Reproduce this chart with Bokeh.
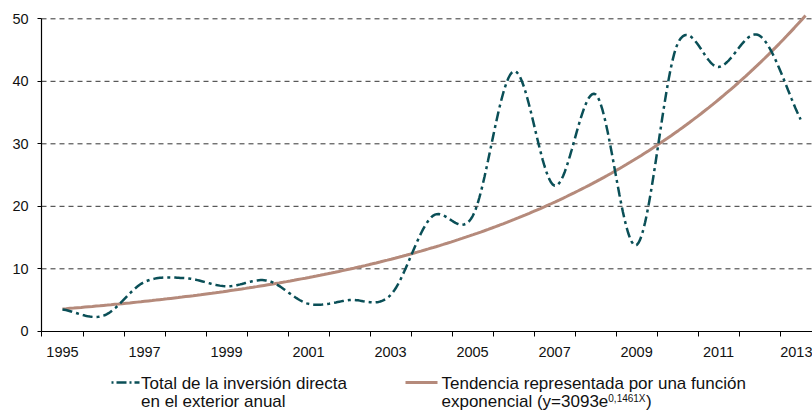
import numpy as np
from bokeh.plotting import figure
from bokeh.models import Range1d, FixedTicker, Label, Arrow, LinearAxis
from bokeh.embed import file_html
from bokeh.resources import INLINE

# ---- data ----
years = list(range(1995, 2014))
inversion = [3.5, 2.5, 7.9, 8.5, 7.2, 8.1, 4.4, 5.0, 5.8, 18.3, 18.4,
             41.6, 23.3, 37.9, 13.8, 46.0, 42.3, 47.3, 33.9]
# trend stated in the chart: y = 3093 e^(0.1461 X), X = 1..19, in millions -> billions
trend_a = 3093.0
trend_b = 0.1461
trend_scale = 1000.0
trend_extra = 0.12  # the trend line is drawn slightly beyond the last year
y_ticks = [0, 10, 20, 30, 40, 50]
x_label_years = [1995, 1997, 1999, 2001, 2003, 2005, 2007, 2009, 2011, 2013]
legend_1 = ["Total de la inversión directa", "en el exterior anual"]
legend_2 = ["Tendencia representada por una función", "exponencial (y=3093e"]
legend_2_sup = "0,1461X"
legend_2_end = ")"

TEAL = "#0a4f57"
TREND = "#b58a7b"
FONT = "Liberation Sans"


def smooth(xs, ys, n=24):
    """Catmull-Rom style smoothing used only for drawing the line."""
    xs = np.asarray(xs, float)
    ys = np.asarray(ys, float)
    m = np.zeros_like(ys)
    m[1:-1] = (ys[2:] - ys[:-2]) / 2.0
    m[0] = ys[1] - ys[0]
    m[-1] = ys[-1] - ys[-2]
    ox, oy = [], []
    for i in range(len(xs) - 1):
        t = np.linspace(0, 1, n, endpoint=(i == len(xs) - 2))
        h00 = 2 * t**3 - 3 * t**2 + 1
        h10 = t**3 - 2 * t**2 + t
        h01 = -2 * t**3 + 3 * t**2
        h11 = t**3 - t**2
        ox.extend(xs[i] + t * (xs[i + 1] - xs[i]))
        oy.extend(h00 * ys[i] + h10 * m[i] + h01 * ys[i + 1] + h11 * m[i + 1])
    return ox, oy


W, H = 812, 414
X_AXIS_START = years[0] - 0.512   # where the value axis stands
X_END = 2013.29
# the frame covers the whole canvas; axes are placed at fixed locations
p = figure(width=W, height=H, output_backend="svg", toolbar_location=None,
           x_range=Range1d(X_AXIS_START - 1.0, X_END),
           y_range=Range1d(-13.31, 52.93),
           x_axis_location=None, y_axis_location=None,
           min_border_left=0, min_border_right=0, min_border_top=0,
           min_border_bottom=0)
p.outline_line_color = None
p.background_fill_color = "white"
p.border_fill_color = "white"
p.grid.visible = False

# dashed horizontal gridlines from the tick list
gy = y_ticks[1:]
p.segment(x0=[X_AXIS_START] * len(gy), y0=gy, x1=[X_END] * len(gy), y1=gy,
          line_color="#333333", line_width=1, line_dash="5 4")

# x axis: labels at odd years, ticks at the year boundaries
xa = LinearAxis(fixed_location=0, bounds=(X_AXIS_START, X_END))
xa.ticker = FixedTicker(ticks=x_label_years,
                        minor_ticks=[y - 0.5 for y in years] + [years[-1] + 0.5])
xa.major_tick_out = 0
xa.major_tick_in = 0
xa.minor_tick_out = 5
xa.minor_tick_in = 0
xa.minor_tick_line_color = "black"
xa.axis_line_color = "black"
xa.axis_line_width = 1.2
xa.major_label_text_font = FONT
xa.major_label_text_font_size = "14.5px"
xa.major_label_text_color = "#111111"
xa.major_label_standoff = 11
p.add_layout(xa, "below")

ya = LinearAxis(fixed_location=X_AXIS_START, bounds=(0, 50))
ya.ticker = FixedTicker(ticks=y_ticks)
ya.major_tick_out = 4
ya.major_tick_in = 0
ya.minor_tick_line_color = None
ya.axis_line_color = "black"
ya.axis_line_width = 1.2
ya.major_tick_line_color = "black"
ya.major_label_text_font = FONT
ya.major_label_text_font_size = "14.5px"
ya.major_label_text_color = "#111111"
ya.major_label_standoff = 9
p.add_layout(ya, "left")

# trend line
X = np.linspace(1, len(years) + trend_extra, 200)
trend = trend_a * np.exp(trend_b * X) / trend_scale
p.line(years[0] + X - 1, trend, line_color=TREND, line_width=3)

# data line (smoothed)
sx, sy = smooth(years, inversion)
p.line(sx, sy, line_color=TEAL, line_width=2.5, line_dash="10 4 3 4")

# ---- legend (screen units, frame == canvas, y measured from the bottom) ----
ls = dict(x_units="screen", y_units="screen", text_font=FONT,
          text_font_size="17px", text_color="#111111",
          text_baseline="alphabetic", text_align="left")
y_row1 = 31.0
y_row2 = 13.5
y_sample = H - 382.0
p.add_layout(Arrow(x_start=109, y_start=y_sample, x_end=139, y_end=y_sample,
                   start_units="screen", end_units="screen", end=None,
                   line_color=TEAL, line_width=2.5, line_dash="10 3 2 3",
                   line_dash_offset=11))
p.add_layout(Arrow(x_start=405, y_start=y_sample, x_end=437, y_end=y_sample,
                   start_units="screen", end_units="screen", end=None,
                   line_color=TREND, line_width=3))
p.add_layout(Label(x=140.5, y=y_row1, text=legend_1[0], **ls))
p.add_layout(Label(x=140.5, y=y_row2, text=legend_1[1], **ls))
p.add_layout(Label(x=441, y=y_row1, text=legend_2[0], **ls))
p.add_layout(Label(x=441, y=y_row2, text=legend_2[1], **ls))
sup_x = 441 + 9.811 * 17
p.add_layout(Label(x=sup_x, y=y_row2 + 3, text=legend_2_sup,
                   **{**ls, "text_font_size": "10px"}))
p.add_layout(Label(x=sup_x + 3.725 * 10 + 0.5, y=y_row2, text=legend_2_end, **ls))

open("out.html", "w").write(file_html(p, INLINE))
